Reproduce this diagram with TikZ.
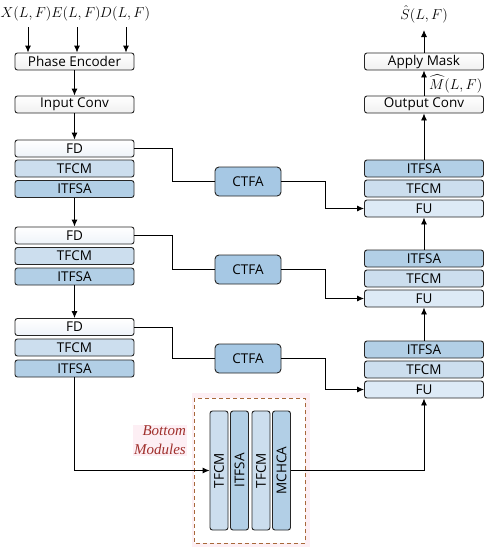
\documentclass[tikz,border=0pt]{standalone}
\usepackage{fontspec}
\setmainfont{Open Sans}
\newfontfamily\bmfont{Liberation Serif}
\usepackage{amsmath}
\usetikzlibrary{arrows.meta}
\definecolor{fdc}{HTML}{EEF3F9}
\definecolor{tfcmc}{HTML}{CCDEEE}
\definecolor{itfsac}{HTML}{B2CFE6}
\definecolor{ctfac}{HTML}{A6C8E4}
\definecolor{fuc}{HTML}{DDEAF6}
\definecolor{plainc}{HTML}{F0F0F0}
\definecolor{dashc}{HTML}{A8683A}
\definecolor{pinkc}{HTML}{FDEFF4}
\definecolor{redtxt}{HTML}{A0302C}
\begin{document}
\begin{tikzpicture}[x=1pt,y=-1pt,
  blk/.style={draw=black!85,line width=0.9pt,rounded corners=2.5pt,minimum width=119pt,minimum height=17pt,inner sep=0pt,font=\fontsize{13.5}{14}\selectfont},
  plainblk/.style={blk,top color=white,bottom color=plainc},
  fdblk/.style={blk,top color=white,bottom color=fdc},
  tfcmblk/.style={blk,fill=tfcmc},
  itfsablk/.style={blk,fill=itfsac},
  fublk/.style={blk,fill=fuc},
  ctfablk/.style={blk,fill=ctfac,minimum width=66pt,minimum height=29pt,rounded corners=4pt},
  vblk/.style={draw=black!85,line width=0.9pt,rounded corners=2.5pt,minimum width=119pt,minimum height=18pt,inner sep=0pt,rotate=90,font=\fontsize{13.5}{14}\selectfont},
  conn/.style={line width=0.9pt,black},
  arr/.style={conn,-{Latex[length=7pt,width=6pt]}},
  mlab/.style={inner sep=0pt,font=\fontsize{14}{15}\selectfont}
]
\useasboundingbox (0,0) rectangle (490,550);
\fill[white] (0,0) rectangle (490,550);
% inputs
\node[mlab] (x) at (26,14) {$X(L,F)$};
\node[mlab] (e) at (76,14) {$E(L,F)$};
\node[mlab] (d) at (125,14) {$D(L,F)$};
\node[plainblk] (pe) at (74.5,61.5) {Phase Encoder};
\node[plainblk] (ic) at (74.5,104.5) {Input Conv};
\coordinate (xa) at (28,27);
\coordinate (ea) at (77,27);
\coordinate (da) at (126,27);
\draw[arr] (xa) -- (xa |- pe.north);
\draw[arr] (ea) -- (ea |- pe.north);
\draw[arr] (da) -- (da |- pe.north);
\draw[arr] (pe) -- (ic);
% left column
\node[fdblk] (fd1) at (74.5,148.5) {FD};
\node[tfcmblk] (tl1) at (74.5,168.5) {TFCM};
\node[itfsablk] (il1) at (74.5,189) {ITFSA};
\node[fdblk] (fd2) at (74.5,235.5) {FD};
\node[tfcmblk] (tl2) at (74.5,256) {TFCM};
\node[itfsablk] (il2) at (74.5,276.5) {ITFSA};
\node[fdblk] (fd3) at (74.5,327) {FD};
\node[tfcmblk] (tl3) at (74.5,347.5) {TFCM};
\node[itfsablk] (il3) at (74.5,368.5) {ITFSA};
\draw[arr] (ic) -- (fd1);
\draw[arr] (il1) -- (fd2);
\draw[arr] (il2) -- (fd3);
% right column
\node[plainblk] (am) at (424,61.5) {Apply Mask};
\node[plainblk] (oc) at (424,104.5) {Output Conv};
\node[itfsablk] (ir1) at (424,168.5) {ITFSA};
\node[tfcmblk] (tr1) at (424,188.5) {TFCM};
\node[fublk] (fu1) at (424,208.5) {FU};
\node[itfsablk] (ir2) at (424,258.5) {ITFSA};
\node[tfcmblk] (tr2) at (424,278.5) {TFCM};
\node[fublk] (fu2) at (424,298.5) {FU};
\node[itfsablk] (ir3) at (424,349.5) {ITFSA};
\node[tfcmblk] (tr3) at (424,369.5) {TFCM};
\node[fublk] (fu3) at (424,389.5) {FU};
\node[mlab] (s) at (424,14) {$\hat{S}(L,F)$};
\coordinate (sa) at (424,30);
\draw[arr] (am) -- (sa);
\draw[arr] (oc) -- (am);
\node[mlab,anchor=west] (m) at (429,84) {$\widehat{M}(L,F)$};
\draw[arr] (ir1) -- (oc);
\draw[arr] (ir2) -- (fu1);
\draw[arr] (ir3) -- (fu2);
% CTFA
\node[ctfablk] (c1) at (248,181.5) {CTFA};
\node[ctfablk] (c2) at (248,269.5) {CTFA};
\node[ctfablk] (c3) at (248,358.5) {CTFA};
\draw[conn] (fd1.east) -| (172,181.5) -- (c1.west);
\draw[conn] (fd2.east) -| (172,269.5) -- (c2.west);
\draw[conn] (fd3.east) -| (172,358.5) -- (c3.west);
\draw[arr] (c1.east) -| (325,208.5) -- (fu1.west);
\draw[arr] (c2.east) -| (325,298.5) -- (fu2.west);
\draw[arr] (c3.east) -| (325,389.5) -- (fu3.west);
% bottom modules
\fill[pinkc] (192,393) rectangle (310,547);
\draw[dashc,line width=1pt,dash pattern=on 4pt off 3pt,fill=white] (194,398) rectangle (305,543);
\node[vblk,fill=tfcmc] (b1) at (219,470.5) {TFCM};
\node[vblk,fill=itfsac] (b2) at (239.5,470.5) {ITFSA};
\node[vblk,fill=tfcmc] (b3) at (261,470.5) {TFCM};
\node[vblk,fill=itfsac] (b4) at (281.5,470.5) {MCHCA};
\node[fill=pinkc,inner sep=1pt,align=right,text=redtxt,font=\bmfont\itshape\fontsize{15}{19}\selectfont] (bm) at (160,440) {Bottom\\Modules};
\draw[arr] (il3.south) |- (b1.north);
\draw[arr] (b4.south) -| (fu3.south);
\end{tikzpicture}
\end{document}
